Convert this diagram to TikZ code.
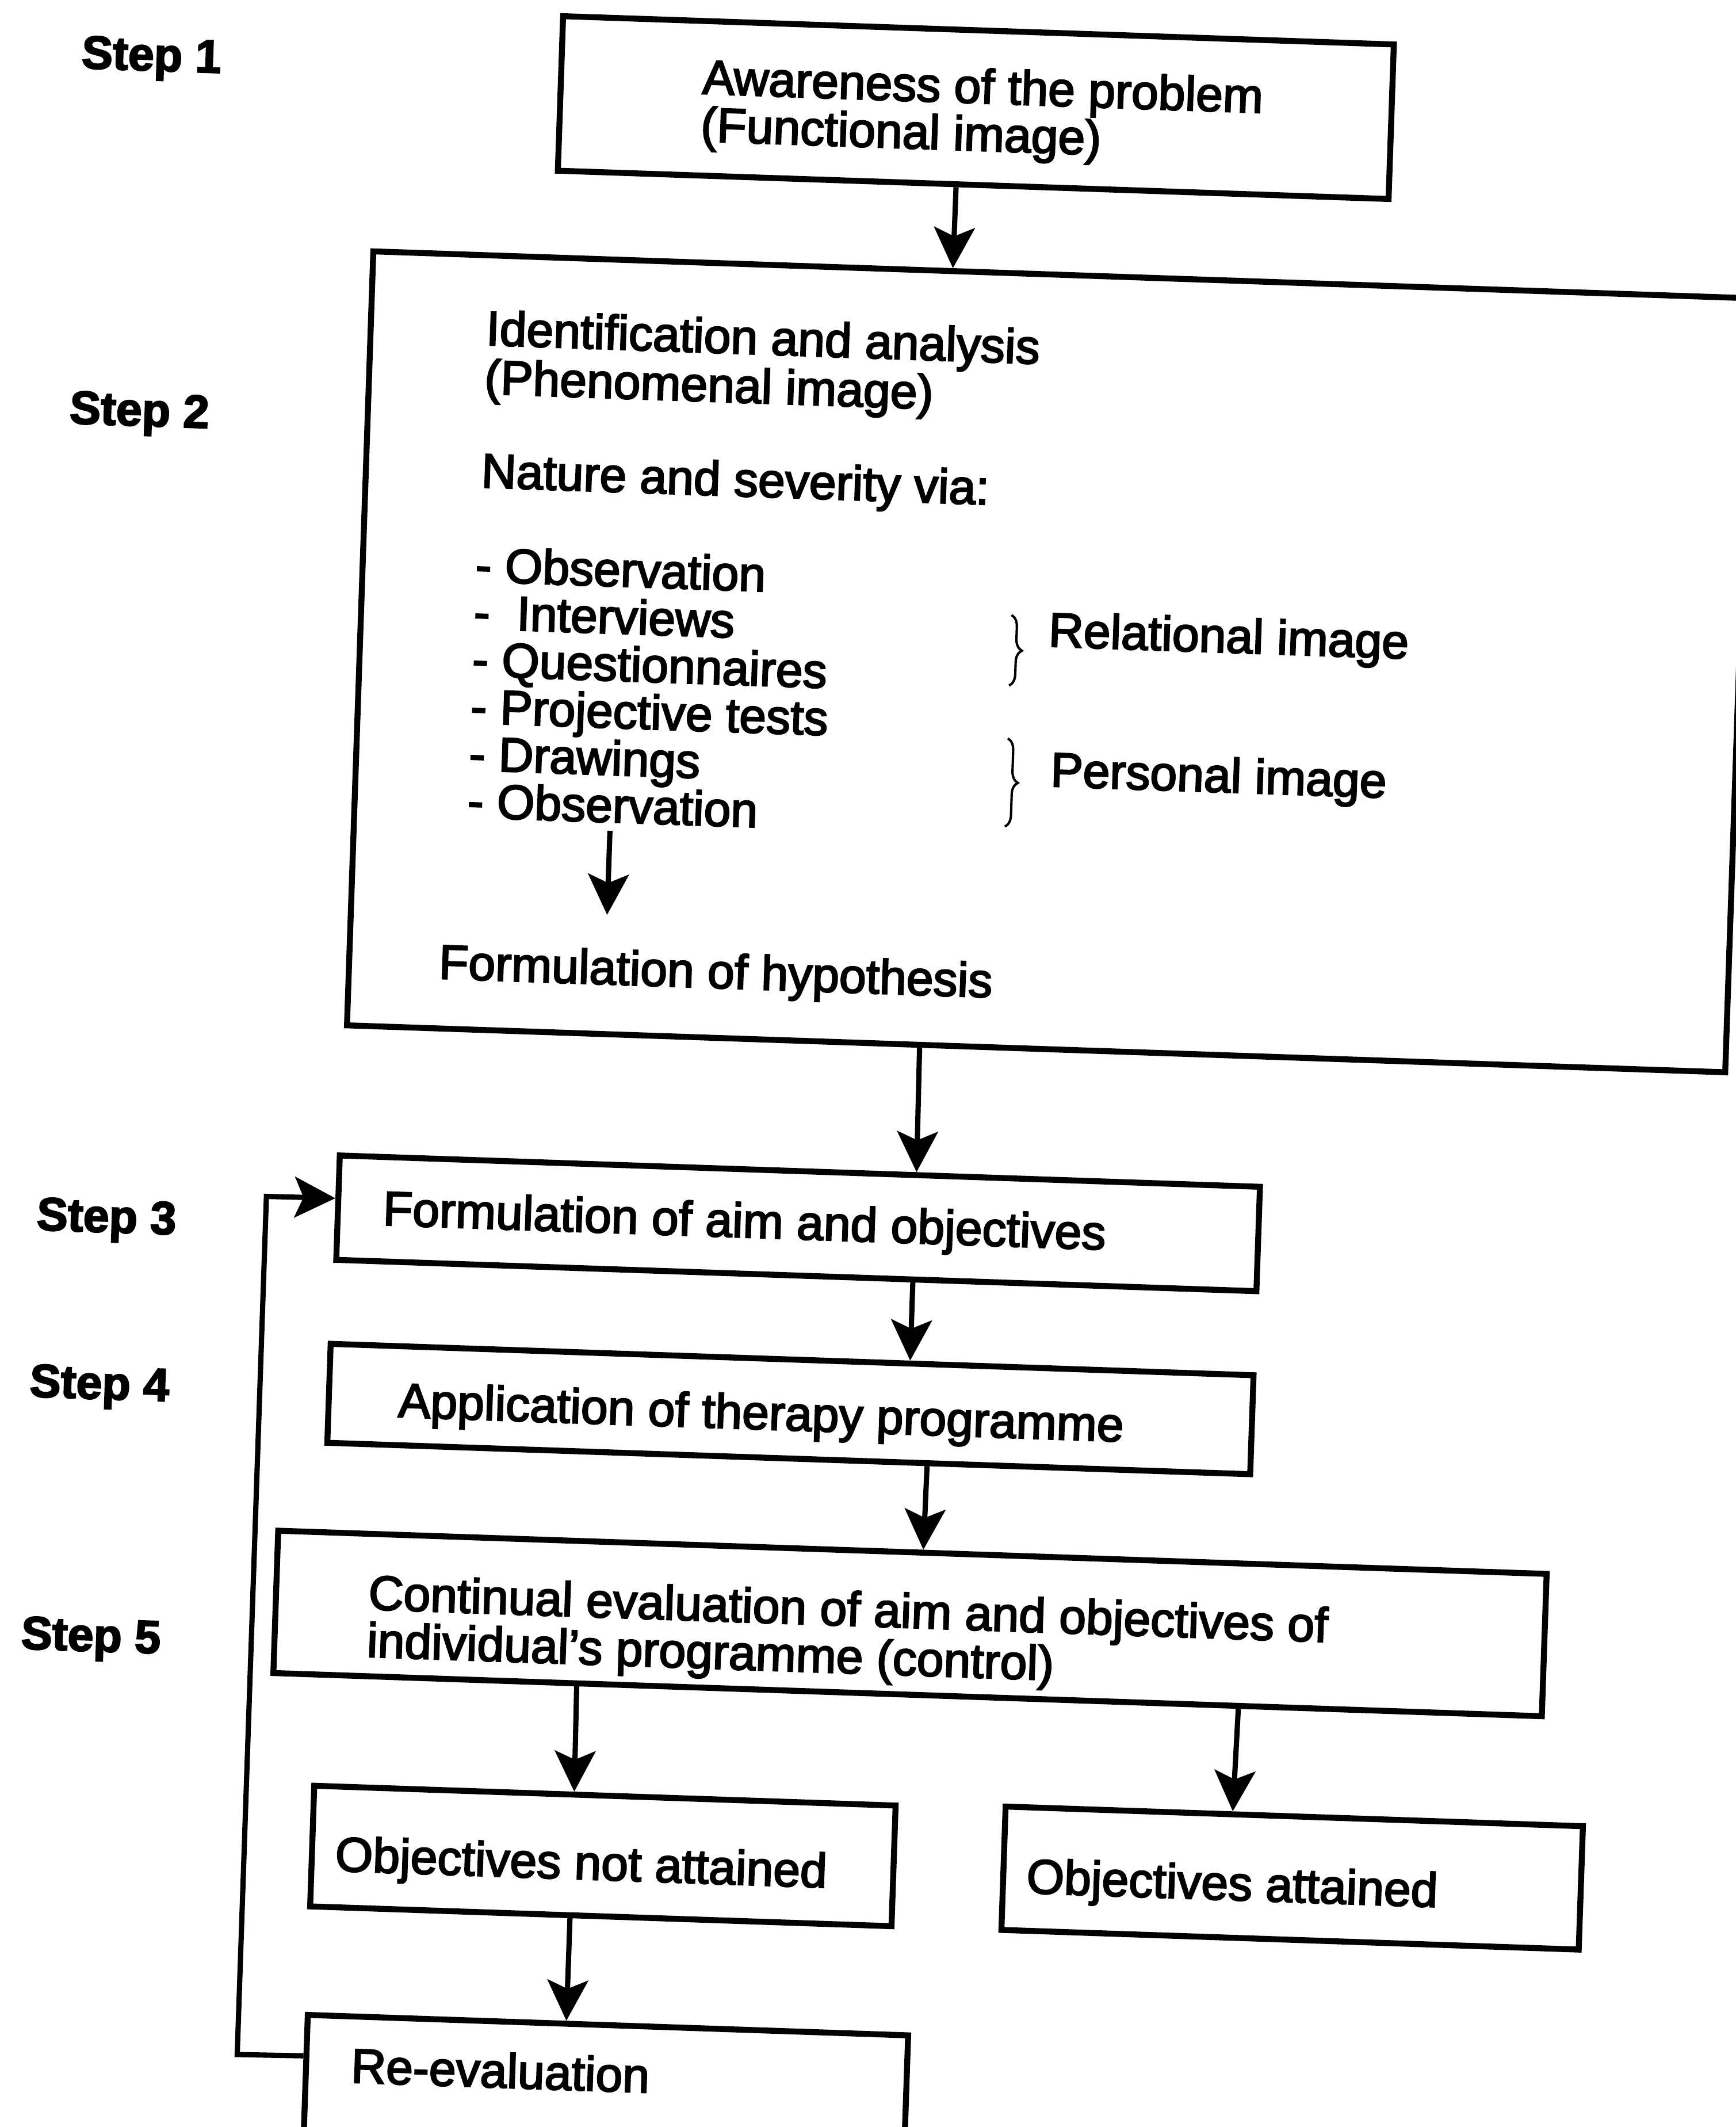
\documentclass[tikz,border=0pt]{standalone}
\usepackage{fontspec}
\setmainfont{Liberation Sans}[FakeBold=3]
\usetikzlibrary{arrows.meta,calc,decorations.pathreplacing}

\begin{document}
\begin{tikzpicture}[x=0.02cm,y=-0.02cm,
  box/.style={draw,line width=2.5pt,inner sep=0pt},
  txt/.style={anchor=west,inner sep=0pt,align=left,font=\fontsize{20.3}{22}\selectfont},
  steplabel/.style={anchor=west,inner sep=0pt,font=\fontsize{19.5}{22}\selectfont\bfseries},
  arr/.style={line width=2.2pt,-{Stealth[length=0.6cm,width=0.6cm,inset=0.13cm]}},
  brc/.style={line width=1pt,decorate,decoration={brace,amplitude=0.17cm}}
]
\useasboundingbox (0,0) rectangle (1280,1568);
\clip (0,0) rectangle (1280,1568);
\begin{scope}[shift={(640,784)},rotate=-1.95,transform shape]
  % step labels
  \node[steplabel] (s1) at (-605,-722) {Step 1};
  \node[steplabel] (s2) at (-605,-460) {Step 2};
  \node[steplabel] (s3) at (-609,135) {Step 3};
  \node[steplabel] (s4) at (-610,258) {Step 4};
  \node[steplabel] (s5) at (-610,444) {Step 5};

  % boxes
  \node[box,minimum width=12.26cm,minimum height=2.28cm] (b1) at (55.5,-707) {};
  \node[box,minimum width=20.34cm,minimum height=11.42cm] (b2) at (123.5,-300.5) {};
  \node[box,minimum width=13.58cm,minimum height=1.54cm] (b3) at (-47.5,119.5) {};
  \node[box,minimum width=13.62cm,minimum height=1.46cm] (b4) at (-48.5,256.5) {};
  \node[box,minimum width=18.72cm,minimum height=2.1cm] (b5) at (45,411.5) {};
  \node[box,minimum width=8.58cm,minimum height=1.78cm] (b6) at (-175.5,590.5) {};
  \node[box,minimum width=8.52cm,minimum height=1.82cm] (b7) at (333,589.5) {};
  \node[box,minimum width=8.86cm,minimum height=1.8cm] (b8) at (-167.5,760) {};

  % box texts
  \node[txt,font=\fontsize{20.3}{18}\selectfont] (t1) at (-147,-702)
    {Awareness of the problem\\(Functional image)};
  \node[txt,font=\fontsize{20.3}{20.5}\selectfont] (t2) at (-300,-511)
    {Identification and analysis\\(Phenomenal image)};
  \node[txt] (nat) at (-300,-424) {Nature and severity via:};
  \node[txt,font=\fontsize{20.3}{19.8}\selectfont] (lst) at (-302,-271)
    {- Observation\\- \ Interviews\\- Questionnaires\\- Projective tests\\- Drawings\\- Observation};
  \node[txt] (rel) at (122,-321) {Relational image};
  \node[txt] (pers) at (127,-218) {Personal image};
  \node[txt] (hyp) at (-319,-61) {Formulation of hypothesis};
  \node[txt] (t3) at (-354,122) {Formulation of aim and objectives};
  \node[txt] (t4) at (-338,263) {Application of therapy programme};
  \node[txt,font=\fontsize{20.3}{17.6}\selectfont] (t5) at (-355,423)
    {Continual evaluation of aim and objectives of\\individual’s programme (control)};
  \node[txt] (t6) at (-373,599) {Objectives not attained};
  \node[txt] (t7) at (137,598) {Objectives attained};
  \node[txt] (t8) at (-356,751) {Re-evaluation};

  % braces grouping the methods
  \draw[brc] (94.5,-334) -- (94.5,-282);
  \draw[brc] (94.9,-243) -- (94.9,-178);

  % arrow towards the hypothesis
  \coordinate (obsend) at (-196,-165);
  \coordinate (hyptop) at (-196,-103);
  \draw[arr] (obsend) -- (hyptop);

  % main flow
  \draw[arr] ($(b1.south west)!0.4796!(b1.south east)$) -- ($(b2.north west)!0.4208!(b2.north east)$);
  \draw[arr] ($(b2.south west)!0.4159!(b2.south east)$) -- ($(b3.north west)!0.6259!(b3.north east)$);
  \draw[arr] ($(b3.south west)!0.6259!(b3.south east)$) -- ($(b4.north west)!0.627!(b4.north east)$);
  \draw[arr] ($(b4.south west)!0.649!(b4.south east)$) -- ($(b5.north west)!0.5085!(b5.north east)$);
  \draw[arr] ($(b5.south west)!0.2404!(b5.south east)$) -- ($(b6.north west)!0.4476!(b6.north east)$);
  \draw[arr] ($(b5.south west)!0.7596!(b5.south east)$) -- ($(b7.north west)!0.3944!(b7.north east)$);
  \draw[arr] ($(b6.south west)!0.4476!(b6.south east)$) -- ($(b8.north west)!0.4312!(b8.north east)$);

  % feedback loop
  \coordinate (loopbot) at (-440,746);
  \coordinate (looptop) at (-440,113);
  \draw[arr] ($(b8.north west)!0.344!(b8.south west)$) -- (loopbot) -- (looptop)
    -- ($(b3.north west)!0.4156!(b3.south west)$);
\end{scope}
\end{tikzpicture}
\end{document}
